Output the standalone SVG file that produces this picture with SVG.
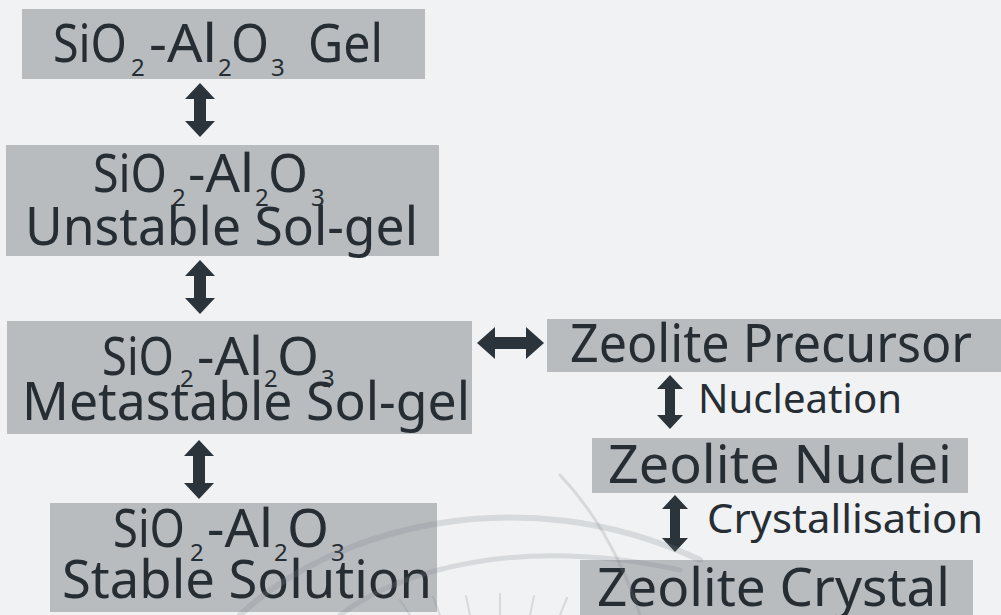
<svg xmlns="http://www.w3.org/2000/svg" width="1001" height="615" viewBox="0 0 1001 615">
<defs>
<style>
.box{fill:#b9bcbf}
.m{font-family:"Noto Sans","DejaVu Sans",sans-serif;font-size:52px;fill:#262d33}
.s{font-family:"Noto Sans","DejaVu Sans",sans-serif;font-size:24px;fill:#262d33}
.l{font-family:"Noto Sans","DejaVu Sans",sans-serif;font-size:40px;fill:#262d33}
.arr{fill:#2b343b}
.wm{fill:none;stroke:#7d8288;stroke-opacity:0.22;stroke-linecap:round}
</style>
</defs>
<rect x="0" y="0" width="1001" height="615" fill="#f1f2f4"/>

<g id="n1">
<rect class="box" x="22" y="9" width="403" height="70"/>
<text class="m" x="53" y="62" textLength="74" lengthAdjust="spacingAndGlyphs">SiO</text>
<text class="s" x="131" y="76">2</text>
<text class="m" x="149" y="62" textLength="68" lengthAdjust="spacingAndGlyphs">-Al</text>
<text class="s" x="218" y="76">2</text>
<text class="m" x="231" y="62" textLength="38" lengthAdjust="spacingAndGlyphs">O</text>
<text class="s" x="271" y="76">3</text>
<text class="m" x="308" y="62" textLength="75" lengthAdjust="spacingAndGlyphs">Gel</text>
</g>

<g id="n2">
<rect class="box" x="6" y="145" width="433" height="111"/>
<text class="m" x="93" y="192" textLength="74" lengthAdjust="spacingAndGlyphs">SiO</text>
<text class="s" x="172" y="206">2</text>
<text class="m" x="188" y="192" textLength="66" lengthAdjust="spacingAndGlyphs">-Al</text>
<text class="s" x="255" y="206">2</text>
<text class="m" x="268" y="192" textLength="40" lengthAdjust="spacingAndGlyphs">O</text>
<text class="s" x="311" y="206">3</text>
<text class="m" x="25" y="245" textLength="393" lengthAdjust="spacingAndGlyphs">Unstable Sol-gel</text>
</g>

<g id="n3">
<rect class="box" x="7" y="321" width="465" height="113"/>
<text class="m" x="102" y="375" textLength="72" lengthAdjust="spacingAndGlyphs">SiO</text>
<text class="s" x="180" y="387">2</text>
<text class="m" x="197" y="375" textLength="66" lengthAdjust="spacingAndGlyphs">-Al</text>
<text class="s" x="264" y="387">2</text>
<text class="m" x="277" y="375" textLength="42" lengthAdjust="spacingAndGlyphs">O</text>
<text class="s" x="321" y="387">3</text>
<text class="m" x="22" y="420" textLength="448" lengthAdjust="spacingAndGlyphs">Metastable Sol-gel</text>
</g>

<g id="n4">
<rect class="box" x="50" y="503" width="387" height="109"/>
<text class="m" x="113" y="547" textLength="72" lengthAdjust="spacingAndGlyphs">SiO</text>
<text class="s" x="190" y="561">2</text>
<text class="m" x="207" y="547" textLength="66" lengthAdjust="spacingAndGlyphs">-Al</text>
<text class="s" x="274" y="561">2</text>
<text class="m" x="287" y="547" textLength="42" lengthAdjust="spacingAndGlyphs">O</text>
<text class="s" x="331" y="561">3</text>
<text class="m" x="62" y="598" textLength="370" lengthAdjust="spacingAndGlyphs">Stable Solution</text>
</g>

<g id="n5">
<rect class="box" x="547" y="319" width="454" height="53"/>
<text class="m" x="570" y="362" textLength="402" lengthAdjust="spacingAndGlyphs">Zeolite Precursor</text>
</g>

<g id="n6">
<rect class="box" x="592" y="438" width="376" height="55"/>
<text class="m" x="608" y="483" textLength="344" lengthAdjust="spacingAndGlyphs">Zeolite Nuclei</text>
</g>

<g id="n7">
<rect class="box" x="580" y="560" width="393" height="55"/>
<text class="m" x="597" y="606" textLength="353" lengthAdjust="spacingAndGlyphs">Zeolite Crystal</text>
</g>

<g id="connectors">
<path class="arr" d="M200,83 L215,99 L206,99 L206,121 L215,121 L200,137 L185,121 L194,121 L194,99 L185,99 Z"/>
<path class="arr" d="M200,260 L215,276 L206,276 L206,298 L215,298 L200,314 L185,298 L194,298 L194,276 L185,276 Z"/>
<path class="arr" d="M199,440 L214,456 L205,456 L205,483 L214,483 L199,499 L184,483 L193,483 L193,456 L184,456 Z"/>
<path class="arr" d="M477,343 L495,327 L495,337 L526,337 L526,327 L544,343 L526,359 L526,349 L495,349 L495,359 Z"/>
<path class="arr" d="M670,375 L683,389 L675,389 L675,415 L683,415 L670,429 L657,415 L665,415 L665,389 L657,389 Z"/>
<path class="arr" d="M675,495 L688,509 L680,509 L680,538 L688,538 L675,552 L662,538 L670,538 L670,509 L662,509 Z"/>
<text class="l" x="698" y="413" textLength="204" lengthAdjust="spacingAndGlyphs">Nucleation</text>
<text class="l" x="707" y="533" textLength="276" lengthAdjust="spacingAndGlyphs">Crystallisation</text>
</g>

<g id="watermark">
<path class="wm" stroke-width="6" d="M240,615 C330,530 520,475 700,560"/>
<path class="wm" stroke-width="5" d="M340,615 C400,570 520,535 680,570"/>
<path class="wm" stroke-width="3" d="M560,475 Q612,530 640,615"/>
<path class="wm" stroke-width="2" d="M410,615 L400,600 M440,615 L433,597 M470,615 L466,596 M500,615 L500,594 M530,615 L534,596 M560,615 L567,598"/>
</g>
</svg>
